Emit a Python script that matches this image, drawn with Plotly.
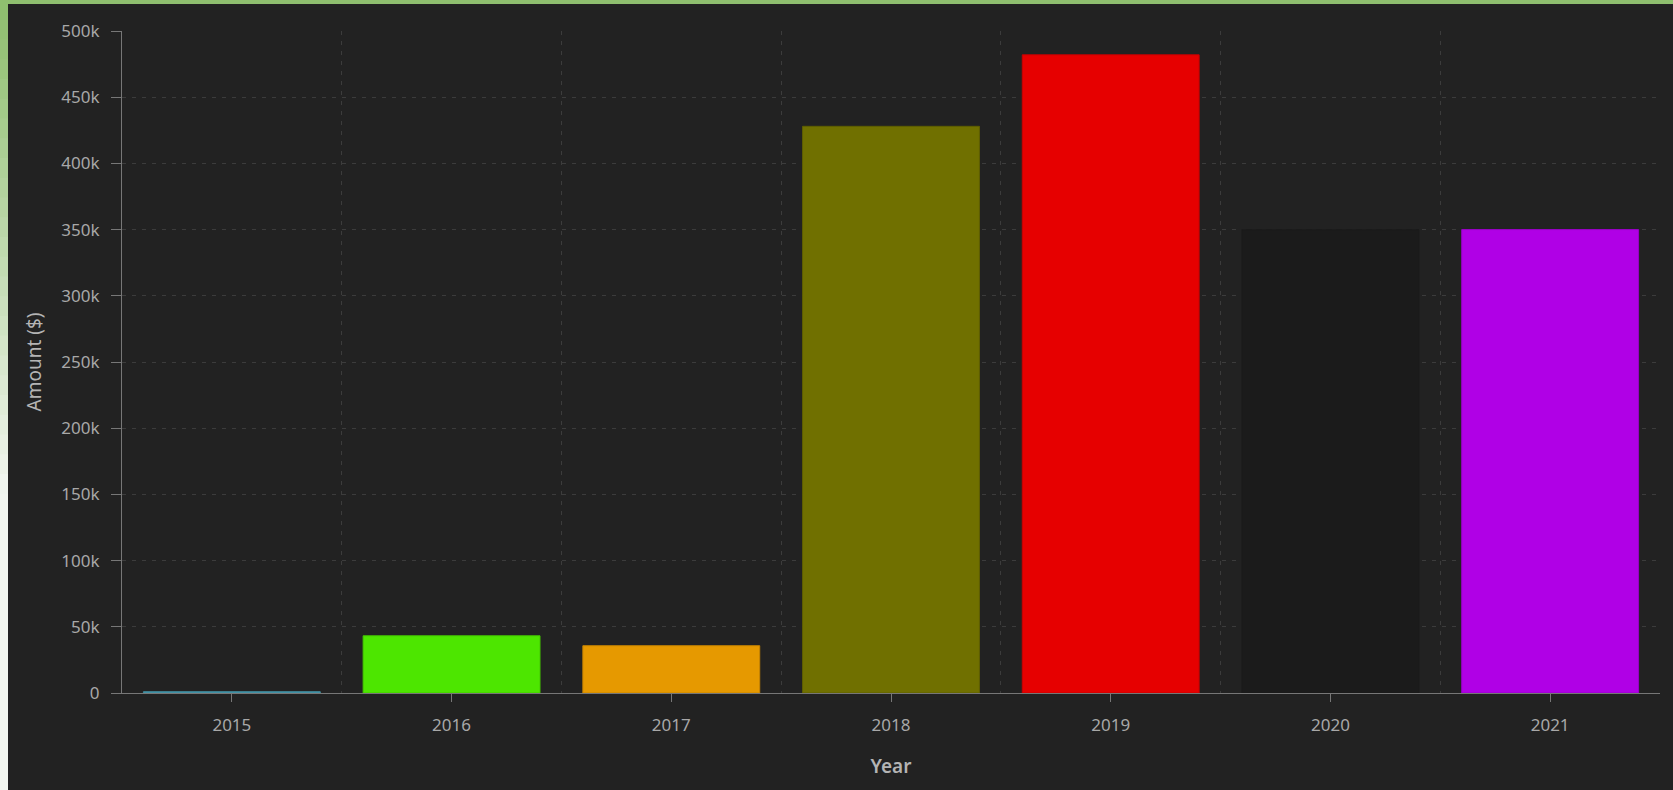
import plotly.graph_objects as go

years = [2015, 2016, 2017, 2018, 2019, 2020, 2021]
amounts = [1000, 43200, 35700, 428000, 482000, 350000, 350000]
bar_colors = ["#4a9bb0", "#4de600", "#e69900", "#707000", "#e60000", "#1b1b1b", "#b000e6"]
line_colors = ["#3f8a9c", "#45c800", "#c88400", "#5e5e00", "#c80000", "#1b1b1b", "#9a00c8"]
y_ticks = [0, 50000, 100000, 150000, 200000, 250000, 300000, 350000, 400000, 450000, 500000]

W, H = 1673, 790
ML, MR, MT, MB = 122, 13, 31, 97
PW, PH = W - ML - MR, H - MT - MB

fig = go.Figure()
fig.add_trace(go.Bar(
    x=years, y=amounts, width=0.805,
    marker=dict(color=bar_colors, line=dict(color=line_colors, width=1)),
    hoverinfo="x+y",
))

grid_col = "#3c3c3c"
axis_col = "#777777"
tick_font = dict(family="Noto Sans", size=17, color="#a8a8a8")

fig.update_xaxes(
    range=[years[0] - 0.5, years[-1] + 0.5],
    tickvals=years, ticktext=[str(y) for y in years],
    showgrid=False, zeroline=False,
    showline=True, linecolor=axis_col, linewidth=1,
    ticks="outside", ticklen=8, tickcolor=axis_col, tickwidth=1,
    tickfont=tick_font, ticklabelstandoff=9,
    minor=dict(tickvals=[y + 0.5 for y in years], showgrid=True,
               gridcolor=grid_col, griddash="4px,6px", gridwidth=1, ticks=""),
    title=dict(text="Year", font=dict(family="Noto Sans", size=19, color="#b4b4b4", weight=600),
               standoff=24),
)
fig.update_yaxes(
    range=[0, 500000], tickvals=y_ticks, tickformat="~s",
    showgrid=True, gridcolor=grid_col, griddash="4px,6px", gridwidth=1,
    zeroline=False,
    showline=True, linecolor=axis_col, linewidth=1,
    ticks="outside", ticklen=10, tickcolor=axis_col, tickwidth=1,
    tickfont=tick_font, ticklabelstandoff=8,
    title=dict(text="Amount ($)", font=dict(family="Noto Sans", size=19, color="#b4b4b4"),
               standoff=14),
)

shapes = []
# top green strip
shapes.append(dict(type="rect", xref="paper", yref="paper",
                   x0=-ML / PW, x1=1 + MR / PW,
                   y0=1 + (MT - 4) / PH, y1=1 + MT / PH,
                   fillcolor="#8fbf6f", line=dict(width=0), layer="below"))
# left gradient strip
n = 40
c0 = (0x8f, 0xbf, 0x6f)
c1 = (0xf2, 0xf6, 0xf0)
for i in range(n):
    t = i / (n - 1)
    t2 = min(1.0, t * 1.6)
    col = tuple(int(c0[k] + (c1[k] - c0[k]) * t2) for k in range(3))
    py0 = H * i / n
    py1 = H * (i + 1) / n + 2
    shapes.append(dict(type="rect", xref="paper", yref="paper",
                       x0=-ML / PW, x1=(8 - ML) / PW,
                       y0=1 + (MT - py1) / PH, y1=1 + (MT - py0) / PH,
                       fillcolor="rgb(%d,%d,%d)" % col, line=dict(width=0), layer="below"))

fig.update_layout(
    width=W, height=H,
    margin=dict(l=ML, r=MR, t=MT, b=MB),
    paper_bgcolor="#222222", plot_bgcolor="#222222",
    showlegend=False, bargap=0.2,
    shapes=shapes,
    font=dict(family="Noto Sans", color="#a8a8a8"),
)

fig.write_html("out.html", config={"displayModeBar": False},
               post_script="document.body.style.margin='0';")
